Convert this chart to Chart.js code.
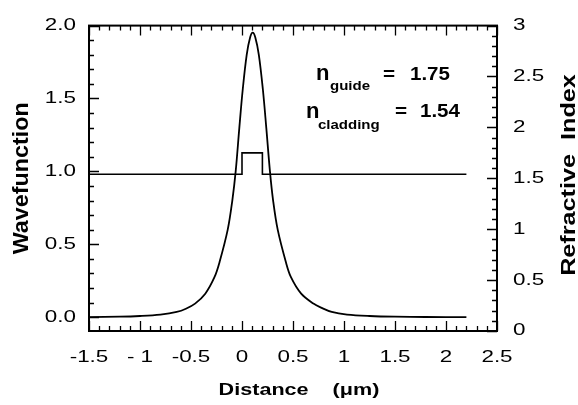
<!DOCTYPE html>
<html>
<head>
<meta charset="utf-8">
<script src="https://cdn.jsdelivr.net/npm/chart.js@4"></script>
<style>
  html, body { margin: 0; padding: 0; background: #fff; }
  canvas { display: block; }
</style>
</head>
<body>
<canvas id="c" width="578" height="405"></canvas>
<script>
// ---- data ----
const waveX = [-1.5, -1.2, -1.0, -0.8, -0.64, -0.55, -0.46, -0.36, -0.27, -0.22, -0.14, -0.095, -0.062, -0.026, 0.007, 0.046, 0.08, 0.105, 0.13, 0.165, 0.205, 0.238, 0.274, 0.305, 0.35, 0.43, 0.48, 0.58, 0.70, 0.78, 0.88, 1.03, 1.25, 1.5, 1.8, 2.2];
const waveY = [0.0, 0.003, 0.008, 0.018, 0.036, 0.058, 0.093, 0.161, 0.274, 0.378, 0.60, 0.80, 1.00, 1.30, 1.56, 1.80, 1.92, 1.952, 1.92, 1.80, 1.56, 1.30, 1.00, 0.80, 0.60, 0.378, 0.274, 0.161, 0.093, 0.064, 0.036, 0.018, 0.008, 0.003, 0.001, 0.0];
const indexX = [-1.5, 0.0, 0.0, 0.2, 0.2, 2.2];
const indexY = [1.54, 1.54, 1.75, 1.75, 1.54, 1.54];
const xTickValues = [-1.5, -1, -0.5, 0, 0.5, 1, 1.5, 2, 2.5];
const xTickLabels = ['-1.5', '- 1', '-0.5', '0', '0.5', '1', '1.5', '2', '2.5'];
const yLeftTickValues = [0, 0.5, 1, 1.5, 2];
const yLeftTickLabels = ['0.0', '0.5', '1.0', '1.5', '2.0'];
const yRightTickValues = [0, 0.5, 1, 1.5, 2, 2.5, 3];
const yRightTickLabels = ['0', '0.5', '1', '1.5', '2', '2.5', '3'];
const nGuide = '1.75';
const nCladding = '1.54';

const FONT = '"Liberation Sans", Arial, Helvetica, sans-serif';

const canvas = document.getElementById('c');
const ctx = canvas.getContext('2d');

// horizontal text stretch (reference lettering is wide)
const origFill = CanvasRenderingContext2D.prototype.fillText;
let forcedStretch = null;
const stretchByText = { 'Wavefunction': 1.06, '  Distance    (μm)': 1.27 };
ctx.fillText = function (t, x, y, mw) {
  let s = forcedStretch;
  if (s === null) {
    s = stretchByText[t] !== undefined ? stretchByText[t] : (/bold/.test(this.font) ? 1.2 : 1.4);
  }
  this.save();
  this.translate(x, y);
  this.scale(s, 1);
  origFill.call(this, t, 0, 0);
  this.restore();
};

const pts = (xs, ys) => xs.map((x, i) => ({ x: x, y: ys[i] }));

const framePlugin = {
  id: 'frame',
  afterDraw(chart) {
    const c = chart.ctx;
    const a = chart.chartArea;
    const sx = chart.scales.x, yl = chart.scales.y, yr = chart.scales.y2;
    c.save();
    c.strokeStyle = '#000';
    c.lineWidth = 2;
    c.strokeRect(a.left, a.top, a.right - a.left, a.bottom - a.top);
    c.lineWidth = 1.3;
    c.beginPath();
    // x ticks (bottom upward, top downward)
    for (let k = -15; k <= 25; k++) {
      const v = k / 10;
      const px = Math.round(sx.getPixelForValue(v)) + 0.5;
      const major = (k % 5 === 0);
      const L = major ? 10 : 5;
      c.moveTo(px, a.bottom); c.lineTo(px, a.bottom - L);
      c.moveTo(px, a.top); c.lineTo(px, a.top + L);
    }
    // left ticks
    for (let k = 0; k <= 20; k++) {
      const py = Math.round(yl.getPixelForValue(k / 10)) + 0.5;
      const L = (k % 5 === 0) ? 10 : 5;
      c.moveTo(a.left, py); c.lineTo(a.left + L, py);
    }
    // right ticks
    for (let k = 0; k <= 30; k++) {
      const py = Math.round(yr.getPixelForValue(k / 10)) + 0.5;
      const L = (k % 5 === 0) ? 10 : 5;
      c.moveTo(a.right, py); c.lineTo(a.right - L, py);
    }
    c.stroke();

    // annotations
    c.fillStyle = '#000';
    c.textAlign = 'left';
    c.textBaseline = 'alphabetic';
    const put = (txt, x, y, size, st) => {
      c.font = 'bold ' + size + 'px ' + FONT;
      forcedStretch = st;
      c.fillText(txt, x, y);
      forcedStretch = null;
    };
    put('n', 316, 80, 22, 1.0);
    put('guide', 330, 90, 12, 1.25);
    put('=', 383, 80, 18, 1.15);
    put(nGuide, 410, 80, 18, 1.14);
    put('n', 306, 118, 22, 1.0);
    put('cladding', 318, 129, 12, 1.25);
    put('=', 395, 117, 18, 1.15);
    put(nCladding, 420, 117, 18, 1.14);

    // right axis title (reads bottom to top)
    c.save();
    c.translate(569, 175);
    c.rotate(-Math.PI / 2);
    c.textAlign = 'center';
    c.textBaseline = 'middle';
    c.font = 'bold 21px ' + FONT;
    forcedStretch = 1.2;
    c.fillText('Refractive  Index', 0, 0);
    forcedStretch = null;
    c.restore();
    c.restore();
  }
};

new Chart(canvas, {
  type: 'scatter',
  data: {
    datasets: [
      {
        label: 'Wavefunction',
        data: pts(waveX, waveY),
        showLine: true,
        borderColor: '#000',
        borderWidth: 1.8,
        pointRadius: 0,
        tension: 0.35,
        yAxisID: 'y'
      },
      {
        label: 'Refractive Index',
        data: pts(indexX, indexY),
        showLine: true,
        borderColor: '#000',
        borderWidth: 1.6,
        pointRadius: 0,
        tension: 0,
        yAxisID: 'y2'
      }
    ]
  },
  options: {
    responsive: false,
    animation: false,
    devicePixelRatio: 1,
    layout: { padding: { left: 0, right: 0, top: 22, bottom: 0 } },
    plugins: { legend: { display: false }, tooltip: { enabled: false } },
    scales: {
      x: {
        type: 'linear',
        position: 'bottom',
        min: -1.5, max: 2.5,
        grid: { display: false, drawTicks: false },
        border: { display: false },
        afterBuildTicks: s => { s.ticks = xTickValues.map(v => ({ value: v })); },
        afterFit: s => { s.height = 74; },
        ticks: {
          padding: 17,
          color: '#000',
          font: { family: FONT, size: 16 },
          maxRotation: 0, autoSkip: false,
          callback: (v, i) => xTickLabels[i]
        },
        title: {
          display: true,
          text: '  Distance    (μm)',
          color: '#000',
          font: { family: FONT, size: 17, weight: 'bold' },
          padding: { top: 0, bottom: 4 }
        }
      },
      y: {
        type: 'linear',
        position: 'left',
        min: -0.095, max: 2.0,
        grid: { display: false, drawTicks: false },
        border: { display: false },
        afterBuildTicks: s => { s.ticks = yLeftTickValues.map(v => ({ value: v })); },
        afterFit: s => { s.width = 89; },
        ticks: {
          padding: 13,
          color: '#000',
          font: { family: FONT, size: 16 },
          callback: (v, i) => yLeftTickLabels[i]
        },
        title: {
          display: true,
          text: 'Wavefunction',
          color: '#000',
          font: { family: FONT, size: 22, weight: 'bold' },
          padding: { top: 9, bottom: 0 }
        }
      },
      y2: {
        type: 'linear',
        position: 'right',
        min: 0, max: 3,
        grid: { display: false, drawTicks: false },
        border: { display: false },
        afterBuildTicks: s => { s.ticks = yRightTickValues.map(v => ({ value: v })); },
        afterFit: s => { s.width = 81; },
        ticks: {
          padding: 16,
          color: '#000',
          font: { family: FONT, size: 16 },
          callback: (v, i) => yRightTickLabels[i]
        }
      }
    }
  },
  plugins: [framePlugin]
});
</script>
</body>
</html>
